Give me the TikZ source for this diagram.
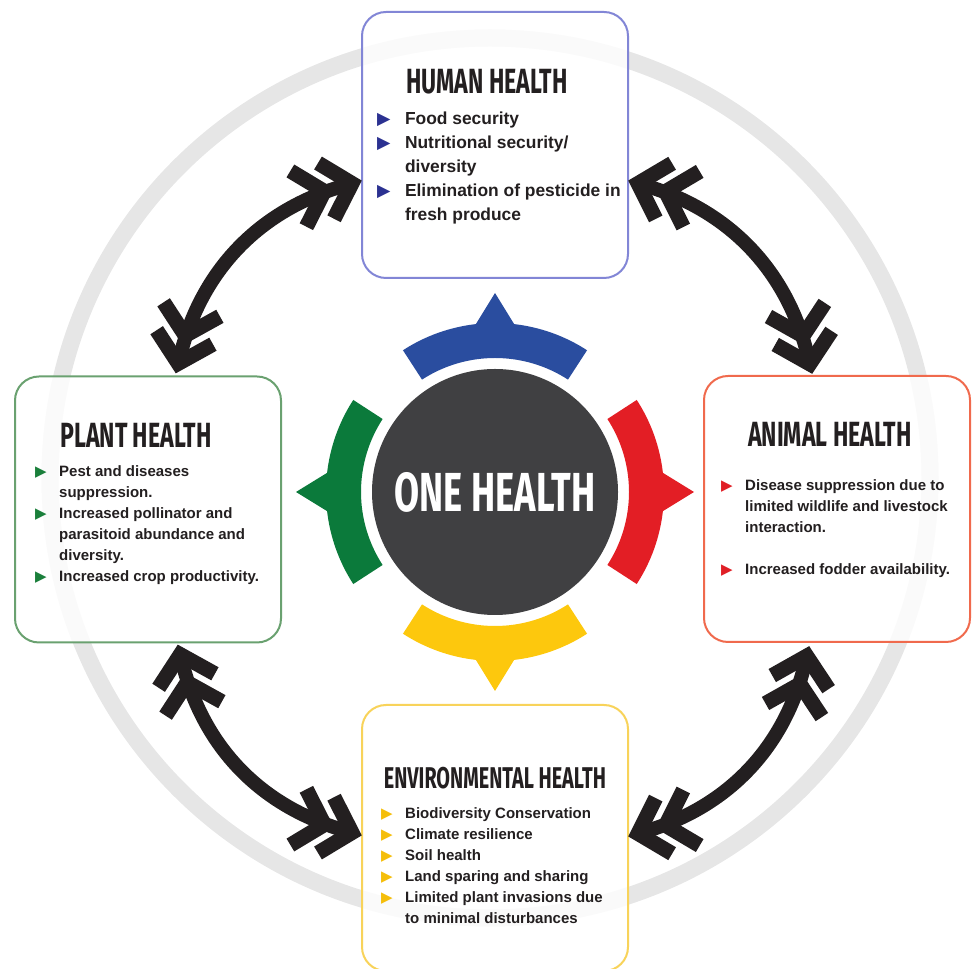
\documentclass[tikz,border=0pt]{standalone}
\usepackage{fontspec}
\setmainfont{Liberation Sans}
\newfontfamily\headfont[FakeStretch=0.66]{Fira Sans}
\newfontfamily\symbfont{DejaVu Sans}
\usetikzlibrary{arrows.meta,positioning}

\definecolor{ringgray}{HTML}{E6E6E6}
\definecolor{ink}{HTML}{231F20}
\definecolor{coregray}{HTML}{404042}
\definecolor{oneblue}{HTML}{2A4D9F}
\definecolor{onered}{HTML}{E31E25}
\definecolor{onegreen}{HTML}{0B7A3B}
\definecolor{oneyellow}{HTML}{FDC80D}
\definecolor{humanline}{HTML}{8286D6}
\definecolor{humanmark}{HTML}{2B3191}
\definecolor{plantline}{HTML}{6AA170}
\definecolor{plantmark}{HTML}{1A7F3B}
\definecolor{animalline}{HTML}{F06A4D}
\definecolor{animalmark}{HTML}{E01F26}
\definecolor{envline}{HTML}{F8D35A}
\definecolor{envmark}{HTML}{F5BE0A}

% bullet triangle, and the indent of a wrapped line
\newcommand{\mk}[1]{\makebox[1.6em][l]{\textcolor{#1}{\symbfont\char"25B6}}}
\newcommand{\gap}{\hspace*{1.6em}}

\begin{document}
\begin{tikzpicture}[x=1pt,y=1pt,
		>={Straight Barb[length=27pt,width=58pt,line width=15pt,sharp,sep=-16pt]}]
	\tikzstyle{box}=[draw,line width=2pt,rounded corners=24pt,fill=white,fill opacity=0.8,
		minimum width=266pt,minimum height=266pt,inner sep=0pt]
	\tikzstyle{headtext}=[font=\headfont\bfseries\fontsize{35}{35}\selectfont,text=ink,inner sep=0pt,anchor=base]
	\tikzstyle{list}=[font=\bfseries\fontsize{15}{21}\selectfont,text=ink,align=left,inner sep=0pt,anchor=north west]
	\tikzstyle{link}=[draw=ink,line width=14pt,<<->>,shorten >=11pt,shorten <=11pt]
	\useasboundingbox (0,0) rectangle (972,969);

	% big ring behind everything
	\draw[ringgray,line width=17pt] (490,491) circle[radius=440];

	% the four boxes
	\node[box,draw=humanline]  (human)  at (495,824)   {};
	\node[box,draw=plantline]  (plant)  at (148,459.5) {};
	\node[box,draw=animalline] (animal) at (837,460)   {};
	\node[box,draw=envline]    (env)    at (495,131)   {};

	\node[headtext] (humantitle)  at ([shift={(-8,-83)}]human.north)  {HUMAN HEALTH};
	\node[headtext] (planttitle)  at ([shift={(-12,-72)}]plant.north) {PLANT HEALTH};
	\node[headtext] (animaltitle) at ([shift={(-7,-72)}]animal.north) {ANIMAL HEALTH};
	\node[headtext,font=\headfont\bfseries\fontsize{30}{30}\selectfont]
		(envtitle) at ([shift={(0,-85)}]env.north) {ENVIRONMENTAL HEALTH};

	\node[list,font=\bfseries\fontsize{17.4}{24}\selectfont] (humanlist)
		at ([shift={(16,-101)}]human.north west) {%
		\mk{humanmark}Food security\\
		\mk{humanmark}Nutritional security/\\
		\gap diversity\\
		\mk{humanmark}Elimination of pesticide in\\
		\gap fresh produce};
	\node[list] (plantlist) at ([shift={(21,-90)}]plant.north west) {%
		\mk{plantmark}Pest and diseases\\
		\gap suppression.\\
		\mk{plantmark}Increased pollinator and\\
		\gap parasitoid abundance and\\
		\gap diversity.\\
		\mk{plantmark}Increased crop productivity.};
	\node[list] (animallist) at ([shift={(18,-104)}]animal.north west) {%
		\mk{animalmark}Disease suppression due to\\
		\gap limited wildlife and livestock\\
		\gap interaction.\\[21pt]
		\mk{animalmark}Increased fodder availability.};
	\node[list] (envlist) at ([shift={(20,-103)}]env.north west) {%
		\mk{envmark}Biodiversity Conservation\\
		\mk{envmark}Climate resilience\\
		\mk{envmark}Soil health\\
		\mk{envmark}Land sparing and sharing\\
		\mk{envmark}Limited plant invasions due\\
		\gap to minimal disturbances};

	% double headed links round the hub
	\draw[link] ([shift={(29,7)}]plant.north)   to[bend left=30] ([shift={(-4,-37)}]human.west);
	\draw[link] ([shift={(4,-37)}]human.east)   to[bend left=30] ([shift={(-26,6)}]animal.north);
	\draw[link] ([shift={(-29,-8)}]animal.south) to[bend left=30] ([shift={(4,3)}]env.east);
	\draw[link] ([shift={(-4,4)}]env.west)      to[bend left=30] ([shift={(31,-6)}]plant.south);

	% hub with its four coloured arcs
	\node[circle,fill=coregray,minimum size=246pt,inner sep=0pt,text=white,
		font=\headfont\bfseries\fontsize{55}{55}\selectfont] (core) at (495,477) {ONE HEALTH};
	\foreach \a/\c in {90/oneblue,0/onered,180/onegreen,270/oneyellow}
		\fill[\c,shift={(core.center)}] (\a-33:134) -- (\a-33:169)
			arc[start angle=\a-33,end angle=\a-6.5,radius=169] -- (\a:199)
			-- (\a+6.5:169) arc[start angle=\a+6.5,end angle=\a+33,radius=169]
			-- (\a+33:134) arc[start angle=\a+33,end angle=\a-33,radius=134] -- cycle;
\end{tikzpicture}
\end{document}
